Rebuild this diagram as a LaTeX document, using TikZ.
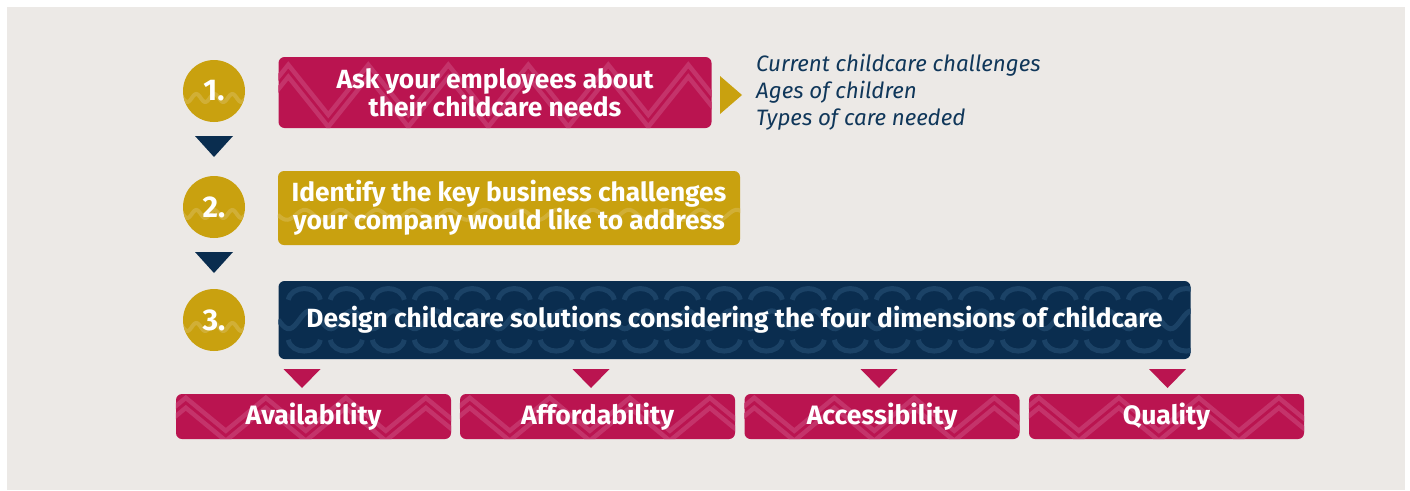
\documentclass[tikz,border=0pt]{standalone}
\usepackage{fontspec}
\setmainfont{Fira Sans}
\definecolor{bg}{HTML}{ECE9E6}
\definecolor{crimson}{HTML}{BA1450}
\definecolor{crimpat}{HTML}{C4336A}
\definecolor{gold}{HTML}{C9A10F}
\definecolor{goldpat}{HTML}{D1AF36}
\definecolor{navy}{HTML}{0A2D4F}
\definecolor{navpat}{HTML}{1B4266}
\definecolor{inkblue}{HTML}{10375A}
\tikzset{
  boxshape/.style={rounded corners=6pt, inner sep=0pt},
  boxtext/.style={inner sep=0pt, text=white, align=center,
    font=\bfseries\fontsize{26.3}{27.5}\selectfont},
  lowtext/.style={boxtext, font=\bfseries\fontsize{26.6}{27}\selectfont},
  lowbox/.style={boxshape, fill=crimson, minimum width=275pt, minimum height=45pt},
  numcirc/.style={circle, fill=gold, minimum size=62pt, inner sep=0pt},
  numtext/.style={inner sep=0pt, text=white, font=\bfseries\fontsize{30}{30}\selectfont},
  zz/.style={crimpat, line width=4.5pt},
  notes/.style={anchor=west, align=left, text=inkblue, inner sep=0pt,
    font=\itshape\fontsize{22.3}{27}\selectfont},
}
% node, first y offset, amplitude, periods, gap
\newcommand\zigpat[5]{%
  \begin{scope}
    \clip[rounded corners=6pt] (#1.north west) rectangle (#1.south east);
    \draw[zz] ([shift={(-30,#2)}]#1.north west) \foreach \i in {1,...,#4}{ -- ++(40,-#3) -- ++(40,#3)};
    \draw[zz] ([shift={(-30,#2+#5)}]#1.north west) \foreach \i in {1,...,#4}{ -- ++(40,-#3) -- ++(40,#3)};
  \end{scope}}
\begin{document}
\begin{tikzpicture}[x=1pt,y=-1pt]
\useasboundingbox (0,0) rectangle (1410,490);
\fill[white] (0,0) rectangle (1410,490);
\fill[bg] (7,7) rectangle (1405,490);

% numbered circles
\foreach \n/\y in {1/91,2/207,3/320}{
  \node[numcirc] (c\n) at (214,\y) {};
  \begin{scope}
    \clip (c\n) circle[radius=31];
    \draw[goldpat, line width=4pt, shift={(c\n.west)}] plot[domain=0:62, samples=60] (\x, {7+4*sin(\x*20)});
  \end{scope}
  \node[numtext] (c\n t) at (c\n) {\n.};
}

% down connectors between circles
\coordinate (t1) at (214,136);
\coordinate (t2) at (214,252);
\fill[navy] (t1) ++(-19,0) -- ++(38,0) -- ++(-19,21) -- cycle;
\fill[navy] (t2) ++(-19,0) -- ++(38,0) -- ++(-19,21) -- cycle;

% step 1
\node[boxshape, fill=crimson, minimum width=433pt, minimum height=71pt] (b1) at (495,92.5) {};
\zigpat{b1}{58}{50}{7}{12}
\node[boxtext] (b1t) at (b1) {Ask your employees about\\their childcare needs};

% step 2
\node[boxshape, fill=gold, minimum width=462pt, minimum height=74pt] (b2) at (509,208) {};
\begin{scope}
  \clip[rounded corners=6pt] (b2.north west) rectangle (b2.south east);
  \draw[goldpat, line width=4pt, shift={(b2.north west)}] plot[domain=0:470, samples=240] (\x, {44+5*sin(\x*10)});
\end{scope}
\node[boxtext] (b2t) at (b2) {Identify the key business challenges\\your company would like to address};

% step 3
\node[boxshape, fill=navy, minimum width=912pt, minimum height=78pt] (b3) at (734.5,320) {};
\begin{scope}
  \clip[rounded corners=6pt] (b3.north west) rectangle (b3.south east);
  \begin{scope}[shift={(b3.north west)}]
    \foreach \i in {0,...,21}{
      \draw[navpat, line width=5pt] (\i*42+10,19) .. controls (\i*42+13,4) and (\i*42+39,4) .. (\i*42+42,19);
      \draw[navpat, line width=5pt] (\i*42+10,59) .. controls (\i*42+13,74) and (\i*42+39,74) .. (\i*42+42,59);
    }
    \draw[navpat, line width=5pt] plot[domain=0:915, samples=400] (\x, {39+9*sin(\x*8.5714)});
  \end{scope}
\end{scope}
\node[boxtext] (b3t) at (b3) {Design childcare solutions considering the four dimensions of childcare};

% side arrow and notes
\coordinate (ga) at (720,95);
\fill[gold] (ga) ++(0,-19) -- ++(22,19) -- ++(-22,19) -- cycle;
\node[notes] (n1) at (756,92) {Current childcare challenges\\Ages of children\\Types of care needed};

% four dimensions
\foreach \n/\x/\t in {1/313.5/Availability,2/597.5/Affordability,3/882/Accessibility,4/1166.5/Quality}{
  \node[lowbox] (d\n) at (\x,416.5) {};
  \zigpat{d\n}{37}{33}{4}{10}
  \node[lowtext] (d\n t) at (d\n) {\t};
}

\foreach \x/\n in {302/1,591/2,879/3,1167.5/4}{
  \coordinate (s\n) at (\x,369);
  \fill[crimson] (s\n) ++(-18.5,0) -- ++(37,0) -- ++(-18.5,19) -- cycle;
}
\end{tikzpicture}
\end{document}
